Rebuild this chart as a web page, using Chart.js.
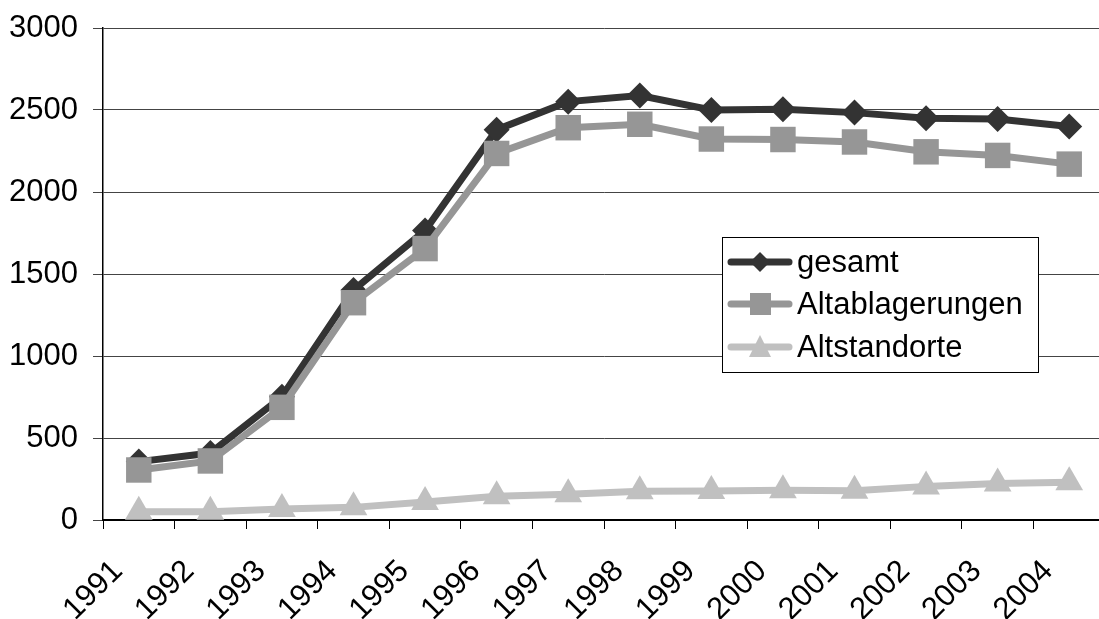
<!DOCTYPE html>
<html>
<head>
<meta charset="utf-8">
<script src="https://cdn.jsdelivr.net/npm/chart.js@4/dist/chart.umd.min.js"></script>
<style>
  html, body { margin: 0; padding: 0; background: #fff; overflow: hidden; }
  #box { position: relative; width: 1106px; height: 619px; }
</style>
</head>
<body>
<div id="box"><canvas id="chart" width="1106" height="619"></canvas></div>
<script>
// Jahre
var years = ['1991', '1992', '1993', '1994', '1995', '1996', '1997', '1998', '1999', '2000', '2001', '2002', '2003', '2004'];
var gesamt = [356, 408, 752, 1402, 1765, 2380, 2551, 2588, 2500, 2504, 2484, 2450, 2445, 2400];
var altablagerungen = [305, 360, 687, 1325, 1655, 2235, 2392, 2413, 2323, 2320, 2305, 2245, 2223, 2170];
var altstandorte = [51, 50, 67, 77, 110, 145, 157, 175, 177, 182, 178, 205, 222, 230];
var yTicks = [0, 500, 1000, 1500, 2000, 2500, 3000];

var FONT = 'Arial, "Liberation Sans", sans-serif';

// Legende innerhalb der Zeichenfläche
var boxLegend = {
    id: 'boxLegend',
    afterDraw: function (chart) {
        var ctx = chart.ctx;
        var x0 = 722, y0 = 237, w = 316, h = 135;
        ctx.save();
        ctx.fillStyle = '#ffffff';
        ctx.fillRect(x0, y0, w, h);
        ctx.strokeStyle = '#000000';
        ctx.lineWidth = 1;
        ctx.strokeRect(x0 + 0.5, y0 + 0.5, w, h);

        var rows = [262, 304, 347];
        var sets = chart.data.datasets;
        for (var i = 0; i < sets.length; i++) {
            var ds = sets[i];
            var cy = rows[i];
            ctx.strokeStyle = ds.borderColor;
            ctx.lineWidth = 7;
            ctx.lineCap = 'round';
            ctx.beginPath();
            ctx.moveTo(731, cy);
            ctx.lineTo(789, cy);
            ctx.stroke();

            ctx.fillStyle = ds.borderColor;
            ctx.beginPath();
            if (ds.pointStyle == 'rectRot') {
                ctx.moveTo(760, cy - 10);
                ctx.lineTo(770, cy);
                ctx.lineTo(760, cy + 10);
                ctx.lineTo(750, cy);
            } else if (ds.pointStyle == 'rect') {
                ctx.rect(750, cy - 11, 21, 22);
            } else {
                ctx.moveTo(760, cy - 12);
                ctx.lineTo(771, cy + 10);
                ctx.lineTo(749, cy + 10);
            }
            ctx.closePath();
            ctx.fill();

            ctx.fillStyle = '#000000';
            ctx.font = '31px ' + FONT;
            ctx.textAlign = 'left';
            ctx.textBaseline = 'middle';
            ctx.fillText(ds.label, 797, cy + 1);
        }
        ctx.restore();
    }
};

var ctx = document.getElementById('chart');
var chart = new Chart(ctx, {
    type: 'line',
    data: {
        labels: years,
        datasets: [{
            label: 'gesamt',
            data: gesamt,
            borderColor: '#333333',
            backgroundColor: '#333333',
            borderWidth: 7,
            pointStyle: 'rectRot',
            pointRadius: 13,
            pointBorderWidth: 0,
            tension: 0,
            order: 3
        }, {
            label: 'Altablagerungen',
            data: altablagerungen,
            borderColor: '#969696',
            backgroundColor: '#969696',
            borderWidth: 7,
            pointStyle: 'rect',
            pointRadius: 18,
            pointBorderWidth: 0,
            tension: 0,
            order: 2
        }, {
            label: 'Altstandorte',
            data: altstandorte,
            borderColor: '#c0c0c0',
            backgroundColor: '#c0c0c0',
            borderWidth: 7,
            pointStyle: 'triangle',
            pointRadius: 16,
            pointBorderWidth: 0,
            tension: 0,
            clip: false,
            order: 1
        }]
    },
    options: {
        responsive: false,
        devicePixelRatio: 1,
        animation: false,
        layout: {
            autoPadding: false,
            padding: { top: 28, right: 1, left: 0, bottom: 0 }
        },
        plugins: {
            legend: { display: false },
            tooltip: { enabled: false }
        },
        scales: {
            x: {
                offset: true,
                grid: {
                    offset: true,
                    drawOnChartArea: false,
                    drawTicks: true,
                    tickLength: 9,
                    color: '#000000'
                },
                border: { color: '#000000', width: 2 },
                ticks: {
                    color: '#000000',
                    font: { family: FONT, size: 31 },
                    minRotation: 45,
                    maxRotation: 45,
                    autoSkip: false,
                    padding: 24,
                    labelOffset: -21
                },
                afterFit: function (scale) {
                    scale.height = 99;
                    scale.paddingLeft = 0;
                    scale.paddingRight = 0;
                }
            },
            y: {
                min: 0,
                max: 3000,
                afterBuildTicks: function (scale) {
                    scale.ticks = yTicks.map(function (v) { return { value: v }; });
                },
                grid: {
                    color: '#444444',
                    lineWidth: 1,
                    tickLength: 10
                },
                border: { color: '#000000', width: 1.5 },
                ticks: {
                    color: '#000000',
                    font: { family: FONT, size: 31 },
                    padding: 15,
                    callback: function (v) { return String(v); }
                },
                afterFit: function (scale) {
                    scale.width = 103;
                    scale.paddingTop = 0;
                    scale.paddingBottom = 0;
                }
            }
        }
    },
    plugins: [boxLegend]
});
</script>
</body>
</html>
